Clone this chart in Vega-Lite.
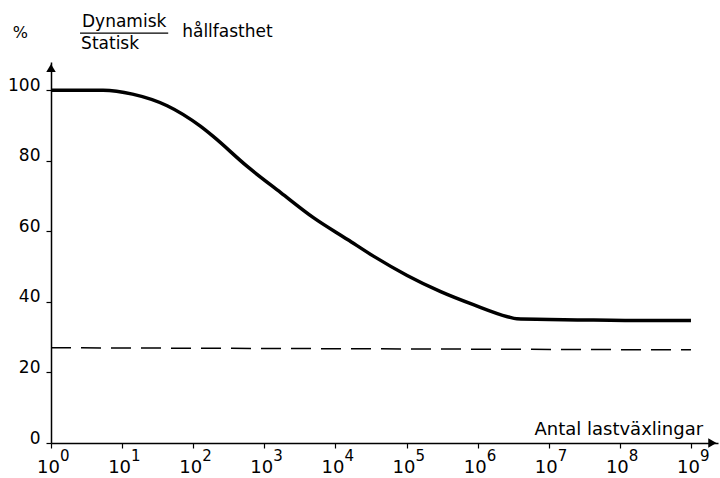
{
  "$schema": "https://vega.github.io/schema/vega-lite/v6.json",
  "width": 667,
  "height": 381,
  "autosize": {"type": "none"},
  "padding": {"left": 51, "top": 62, "right": 2, "bottom": 35},
  "background": "white",
  "config": {
    "view": {"stroke": null},
    "font": "DejaVu Sans",
    "axis": {"grid": false, "domainColor": "black", "domainWidth": 1.5, "tickColor": "black", "tickWidth": 1.2, "labelColor": "black", "labelFont": "DejaVu Sans"}
  },
  "datasets": {
    "curve": [
      {"n": 1, "pct": 100},
      {"n": 5.4, "pct": 100},
      {"n": 14, "pct": 98.9},
      {"n": 43, "pct": 95.6},
      {"n": 126, "pct": 89.8},
      {"n": 191, "pct": 86.9},
      {"n": 575, "pct": 78.4},
      {"n": 1700, "pct": 71.0},
      {"n": 4900, "pct": 63.9},
      {"n": 14800, "pct": 57.7},
      {"n": 34700, "pct": 52.9},
      {"n": 102000, "pct": 47.5},
      {"n": 302000, "pct": 42.9},
      {"n": 871000, "pct": 39.2},
      {"n": 2630000, "pct": 35.8},
      {"n": 3550000, "pct": 35.2},
      {"n": 28000000, "pct": 34.9},
      {"n": 245000000, "pct": 34.7},
      {"n": 1000000000, "pct": 34.7}
    ],
    "dashed": [
      {"n": 1, "pct": 27.0},
      {"n": 1000000000, "pct": 26.4}
    ],
    "exps": [
      {"n": 1, "e": "0"},
      {"n": 10, "e": "1"},
      {"n": 100, "e": "2"},
      {"n": 1000, "e": "3"},
      {"n": 10000, "e": "4"},
      {"n": 100000, "e": "5"},
      {"n": 1000000, "e": "6"},
      {"n": 10000000, "e": "7"},
      {"n": 100000000, "e": "8"},
      {"n": 1000000000, "e": "9"}
    ],
    "one": [{}]
  },
  "layer": [
    {
      "data": {"name": "curve"},
      "mark": {"type": "line", "color": "black", "strokeWidth": 3.5, "interpolate": "monotone", "clip": false},
      "encoding": {
        "x": {
          "field": "n", "type": "quantitative",
          "scale": {"type": "log", "domain": [1, 2400000000], "nice": false},
          "axis": {
            "values": [1, 10, 100, 1000, 10000, 100000, 1000000, 10000000, 100000000, 1000000000],
            "labelExpr": "'10'", "labelFontSize": 18, "labelPadding": 10, "labelOffset": -3,
            "tickSize": 5, "title": null, "labelFlush": false, "labelOverlap": false
          }
        },
        "y": {
          "field": "pct", "type": "quantitative",
          "scale": {"domain": [0, 108], "nice": false},
          "axis": {
            "values": [0, 20, 40, 60, 80, 100],
            "labelFontSize": 17, "labelBaseline": "alphabetic", "labelPadding": 6,
            "tickSize": 5, "title": null
          }
        }
      }
    },
    {
      "data": {"name": "dashed"},
      "mark": {"type": "line", "color": "black", "strokeWidth": 1.5, "strokeDash": [20, 10]},
      "encoding": {
        "x": {"field": "n", "type": "quantitative"},
        "y": {"field": "pct", "type": "quantitative"}
      }
    },
    {
      "data": {"name": "exps"},
      "mark": {"type": "text", "align": "left", "baseline": "alphabetic", "fontSize": 15, "dx": 9, "dy": 18, "color": "black"},
      "encoding": {
        "x": {"field": "n", "type": "quantitative"},
        "y": {"datum": 0},
        "text": {"field": "e"}
      }
    },
    {
      "data": {"name": "one"},
      "mark": {"type": "point", "shape": "triangle-up", "filled": true, "color": "black", "size": 90, "opacity": 1},
      "encoding": {"x": {"datum": 1}, "y": {"datum": 106.3}}
    },
    {
      "data": {"name": "one"},
      "mark": {"type": "point", "shape": "triangle-right", "filled": true, "color": "black", "size": 90, "opacity": 1},
      "encoding": {"x": {"datum": 2000000000}, "y": {"datum": 0}}
    },
    {
      "data": {"name": "one"},
      "mark": {"type": "text", "align": "left", "baseline": "alphabetic", "fontSize": 16, "color": "black"},
      "encoding": {"x": {"datum": 0.29}, "y": {"datum": 114.8}, "text": {"value": "%"}}
    },
    {
      "data": {"name": "one"},
      "mark": {"type": "text", "align": "left", "baseline": "alphabetic", "fontSize": 17, "color": "black"},
      "encoding": {"x": {"datum": 2.73}, "y": {"datum": 117.9}, "text": {"value": "Dynamisk"}}
    },
    {
      "data": {"name": "one"},
      "mark": {"type": "text", "align": "left", "baseline": "alphabetic", "fontSize": 17, "color": "black"},
      "encoding": {"x": {"datum": 2.65}, "y": {"datum": 111.7}, "text": {"value": "Statisk"}}
    },
    {
      "data": {"name": "one"},
      "mark": {"type": "rule", "color": "black", "strokeWidth": 1.2},
      "encoding": {"x": {"datum": 2.56}, "x2": {"datum": 44.5}, "y": {"datum": 116.2}}
    },
    {
      "data": {"name": "one"},
      "mark": {"type": "text", "align": "left", "baseline": "alphabetic", "fontSize": 17, "color": "black"},
      "encoding": {"x": {"datum": 70}, "y": {"datum": 115.1}, "text": {"value": "hållfasthet"}}
    },
    {
      "data": {"name": "one"},
      "mark": {"type": "text", "align": "right", "baseline": "alphabetic", "fontSize": 18, "color": "black"},
      "encoding": {"x": {"datum": 1480000000}, "y": {"datum": 2.3}, "text": {"value": "Antal lastväxlingar"}}
    }
  ]
}
